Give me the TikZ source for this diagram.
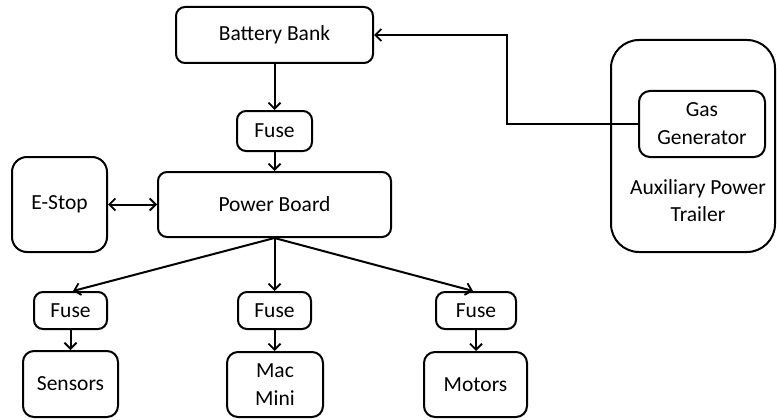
\documentclass[tikz,border=0pt]{standalone}
\usepackage{fontspec}
\setmainfont{Carlito}
\usetikzlibrary{arrows.meta,calc}
\begin{document}
\begin{tikzpicture}[x=1pt,y=-1pt,
  box/.style={draw,line width=2pt,rounded corners=9pt,inner sep=0pt,align=center,font=\fontsize{21.5}{28}\selectfont},
  conn/.style={line width=2pt,-{Straight Barb[length=6pt,width=12pt,line width=1.8pt]}},
  biconn/.style={line width=2pt,{Straight Barb[length=6pt,width=12pt,line width=1.8pt]}-{Straight Barb[length=6pt,width=12pt,line width=1.8pt]}}]
\useasboundingbox (0,0) rectangle (777,420);
\node[box,minimum width=197pt,minimum height=56pt] (bb) at (274.5,35) {Battery Bank};
\node[box,minimum width=75pt,minimum height=40pt] (fuse0) at (274.5,131) {Fuse};
\node[box,minimum width=233pt,minimum height=65pt] (pb) at (274.5,204.5) {Power Board};
\node[box,rounded corners=15pt,minimum width=95pt,minimum height=95pt] (estop) at (59.5,204.5) {E-Stop};
\node[box,minimum width=73pt,minimum height=37pt] (f1) at (70.5,310.5) {Fuse};
\node[box,minimum width=73pt,minimum height=37pt] (f2) at (274.5,310.5) {Fuse};
\node[box,minimum width=80pt,minimum height=37pt] (f3) at (476,310.5) {Fuse};
\node[box,rounded corners=11pt,minimum width=95pt,minimum height=66pt] (sens) at (70.5,384) {Sensors};
\node[box,rounded corners=11pt,minimum width=96pt,minimum height=65pt] (mac) at (275,384.5) {Mac\\Mini};
\node[box,rounded corners=11pt,minimum width=103pt,minimum height=65pt] (mot) at (475.5,384.5) {Motors};
\node[box,rounded corners=28pt,minimum width=164pt,minimum height=212pt] (trailer) at (693,146) {};
\node[box,rounded corners=11pt,minimum width=126pt,minimum height=66pt] (gas) at (702,124) {Gas\\Generator};
\node[font=\fontsize{21.5}{27}\selectfont,align=center,inner sep=0pt] (trlabel) at (698,201) {Auxiliary Power\\Trailer};
\coordinate (bend) at (507,0);
\draw[conn] (bb) -- (fuse0);
\draw[conn] (fuse0) -- (pb);
\draw[biconn] (estop.east) -- (pb.west);
\draw[conn] (pb.south) -- ($(f1.north)+(2.5,0)$);
\draw[conn] (pb.south) -- (f2.north);
\draw[conn] (pb.south) -- ($(f3.north)+(-3,0)$);
\draw[conn] (f1) -- (f1 |- sens.north);
\draw[conn] (f2) -- (f2 |- mac.north);
\draw[conn] (f3) -- (f3 |- mot.north);
\draw[conn] (gas.west) -- (gas.west -| bend) |- (bb.east);
\end{tikzpicture}
\end{document}
